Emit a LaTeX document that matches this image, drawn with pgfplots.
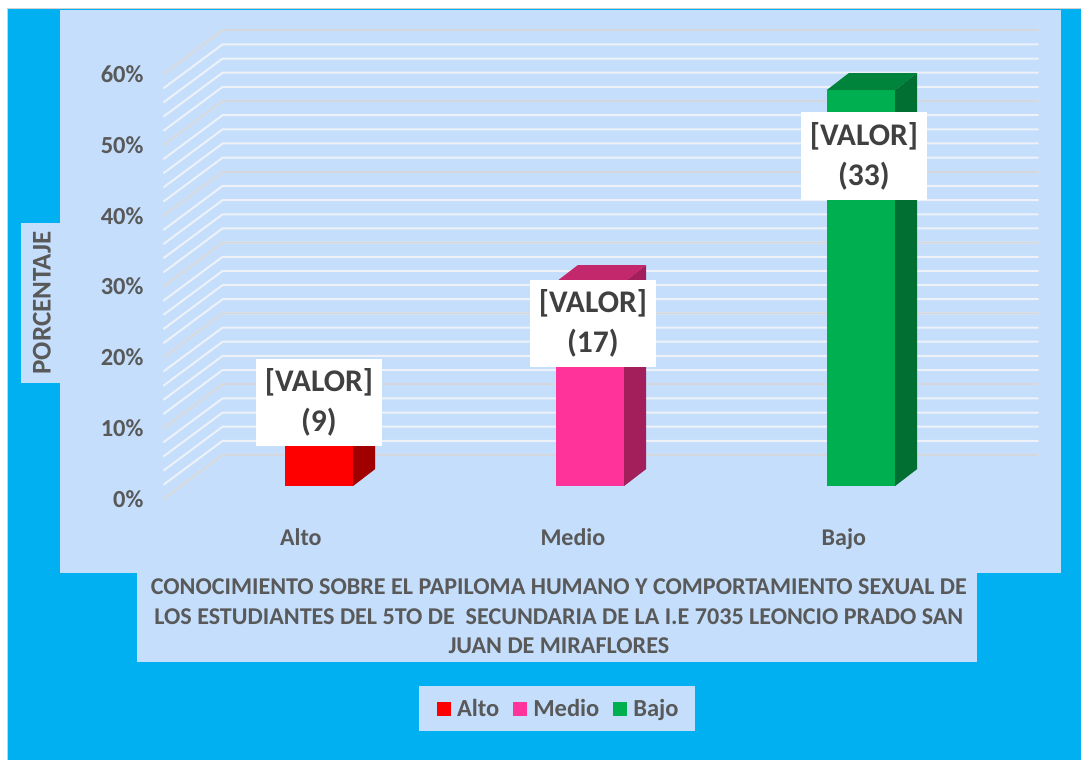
\documentclass[border=0pt]{standalone}
\usepackage{pgfplots}
\pgfplotsset{compat=1.18}
\usepackage{fontspec}
\setmainfont{Carlito}
\definecolor{bgcyan}{HTML}{00B0F0}
\definecolor{panel}{HTML}{C4DEFC}
\definecolor{txt}{HTML}{595959}
\definecolor{lbl}{HTML}{404040}
\definecolor{majgrid}{HTML}{D4D8DE}
\definecolor{mingrid}{HTML}{EEF2F8}
\definecolor{altoF}{HTML}{FF0000}
\definecolor{altoS}{HTML}{A00000}
\definecolor{altoT}{HTML}{C80000}
\definecolor{medioF}{HTML}{FF3399}
\definecolor{medioS}{HTML}{A31F5C}
\definecolor{medioT}{HTML}{C4286C}
\definecolor{bajoF}{HTML}{00B050}
\definecolor{bajoS}{HTML}{006F31}
\definecolor{bajoT}{HTML}{00843C}
\begin{document}
\begin{tikzpicture}[x=1pt,y=1pt]
\useasboundingbox (0,0) rectangle (1081,760);
\fill[white] (0,0) rectangle (1081,760);
\fill[bgcyan] (7,0) rectangle (1081,751);
\draw[black!18, line width=1pt] (7,0) -- (7,751) -- (1081,751);
\fill[panel] (60,187) rectangle (1061,750);
\fill[panel] (137,98) rectangle (977,187);
\fill[panel] (21,377) rectangle (60,537);
\fill[panel] (419,29) rectangle (695,74);
\begin{axis}[at={(60pt,187pt)}, anchor=south west, scale only axis,
  width=1001pt, height=563pt,
  xmin=-0.95556, xmax=2.75185, ymin=-12.288, ymax=67.232,
  axis line style={draw=none}, major tick length=0pt, clip=false,
  ytick={-1.836,8.164,18.164,28.164,38.164,48.164,58.164},
  yticklabels={0\%,10\%,20\%,30\%,40\%,50\%,60\%},
  yticklabel style={font=\fontsize{24.5}{28}\selectfont\bfseries, text=txt, anchor=east, xshift=87pt},
  xtick={-0.0667,0.937,1.937}, xticklabels={Alto,Medio,Bajo},
  xticklabel style={font=\fontsize{24}{28}\selectfont\bfseries, text=txt, anchor=base, yshift=27pt},
  ylabel={PORCENTAJE},
  ylabel style={at={(axis description cs:-0.018,0.4796)}, anchor=center, font=\fontsize{27}{30}\selectfont\bfseries, text=txt},
  xlabel={CONOCIMIENTO SOBRE EL PAPILOMA HUMANO Y COMPORTAMIENTO SEXUAL DE\\LOS ESTUDIANTES DEL 5TO DE \ SECUNDARIA DE LA I.E 7035 LEONCIO PRADO SAN\\JUAN DE MIRAFLORES},
  xlabel style={at={(axis description cs:0.4965,-0.0775)}, anchor=center, align=center, font=\fontsize{24.1}{29.5}\selectfont\bfseries, text=txt},
  legend columns=3,
  legend style={at={(axis description cs:0.4965,-0.2407)}, anchor=center, draw=none, fill=none,
    font=\fontsize{24.5}{28}\selectfont\bfseries, text=txt,
    /tikz/every odd column/.append style={column sep=4pt},
    /tikz/every even column/.append style={column sep=12pt}},
  legend image code/.code={\fill (0pt,-7pt) rectangle (14pt,7pt);},
]
% minor grid
\pgfplotsinvokeforeach{0,2,...,60}{
  \addplot[mingrid, line width=2pt, forget plot] table[row sep=\\, y expr=\thisrow{y}+#1]{x y\\ -0.5741 -1.836\\ -0.3556 4.379\\ 2.6556 4.379\\};
}
% major grid
\pgfplotsinvokeforeach{0,10,...,60}{
  \addplot[majgrid, line width=2pt, forget plot] table[row sep=\\, y expr=\thisrow{y}+#1]{x y\\ -0.5741 -1.836\\ -0.3556 4.379\\ 2.6556 4.379\\};
}
% front faces
\addplot[ybar, bar width=0.252, bar shift=0pt, fill=altoF, draw=none] coordinates {(0,15.25)};
\addlegendentry{Alto}
\addplot[ybar, bar width=0.252, bar shift=0pt, fill=medioF, draw=none] coordinates {(1,28.81)};
\addlegendentry{Medio}
\addplot[ybar, bar width=0.252, bar shift=0pt, fill=bajoF, draw=none] coordinates {(2,55.93)};
\addlegendentry{Bajo}
% top faces
\addplot[fill=altoT, draw=none, forget plot] coordinates {(-0.126,15.25) (0.126,15.25) (0.2075,17.65) (-0.0445,17.65)} -- cycle;
\addplot[fill=medioT, draw=none, forget plot] coordinates {(0.874,28.81) (1.126,28.81) (1.2075,31.21) (0.9555,31.21)} -- cycle;
\addplot[fill=bajoT, draw=none, forget plot] coordinates {(1.874,55.93) (2.126,55.93) (2.2075,58.33) (1.9555,58.33)} -- cycle;
% side faces
\addplot[fill=altoS, draw=none, forget plot] coordinates {(0.126,0) (0.2075,2.4) (0.2075,17.65) (0.126,15.25)} -- cycle;
\addplot[fill=medioS, draw=none, forget plot] coordinates {(1.126,0) (1.2075,2.4) (1.2075,31.21) (1.126,28.81)} -- cycle;
\addplot[fill=bajoS, draw=none, forget plot] coordinates {(2.126,0) (2.2075,2.4) (2.2075,58.33) (2.126,55.93)} -- cycle;
% data labels
\node[fill=white, inner sep=0pt, minimum width=126pt, minimum height=87pt, align=center, font=\fontsize{31.5}{40}\selectfont\bfseries, text=lbl] at (axis cs:0,11.79) {[VALOR]\\(9)};
\node[fill=white, inner sep=0pt, minimum width=126pt, minimum height=87pt, align=center, font=\fontsize{31.5}{40}\selectfont\bfseries, text=lbl] at (axis cs:1.011,22.95) {[VALOR]\\(17)};
\node[fill=white, inner sep=0pt, minimum width=126pt, minimum height=87pt, align=center, font=\fontsize{31.5}{40}\selectfont\bfseries, text=lbl] at (axis cs:2.011,46.61) {[VALOR]\\(33)};
\end{axis}
\end{tikzpicture}
\end{document}
